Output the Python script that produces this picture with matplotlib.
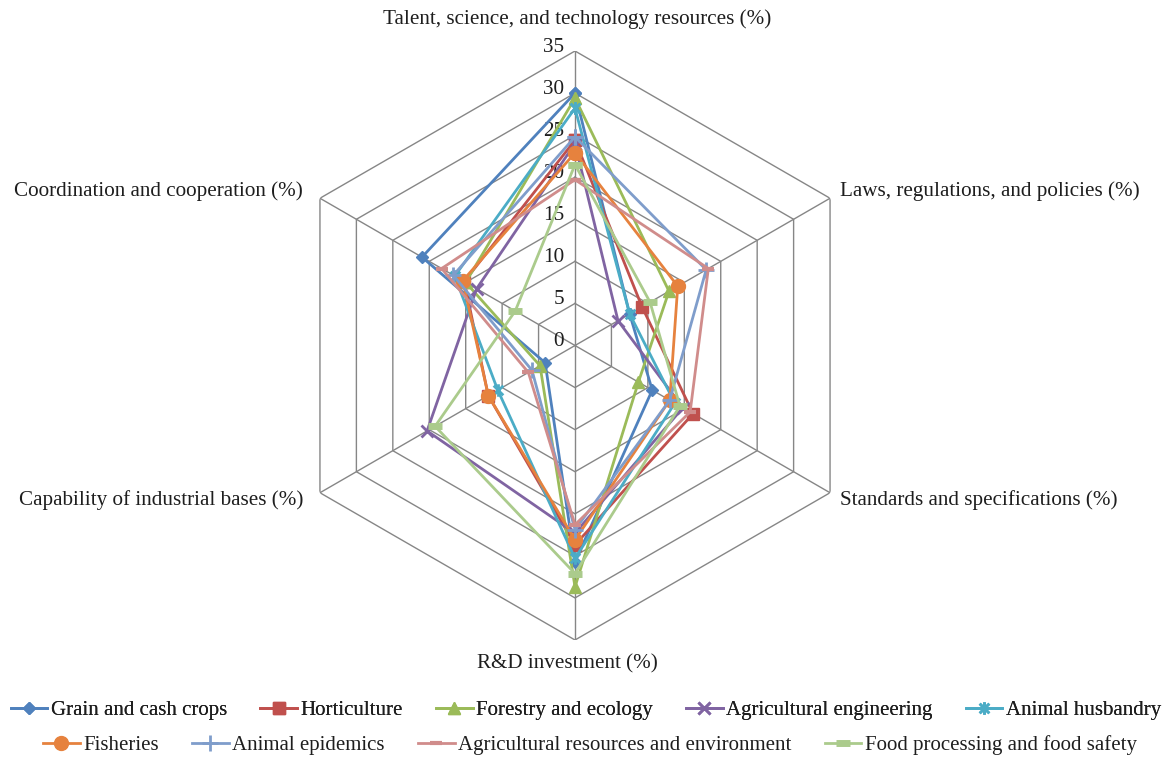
import numpy as np
import matplotlib.pyplot as plt
from matplotlib.path import Path

categories = ["Talent, science, and technology resources (%)",
              "Laws, regulations, and policies (%)",
              "Standards and specifications (%)",
              "R&D investment (%)",
              "Capability of industrial bases (%)",
              "Coordination and cooperation (%)"]

grain = [30.0, 7.5, 10.6, 25.7, 4.1, 21.0]
horticulture = [24.4, 9.2, 16.2, 23.7, 11.9, 15.2]
forestry = [29.4, 12.9, 8.7, 28.7, 4.8, 15.0]
agri_eng = [24.0, 5.9, 14.8, 22.3, 20.3, 13.5]
husbandry = [28.2, 7.5, 13.7, 25.3, 10.6, 16.5]
fisheries = [22.9, 14.1, 13.0, 23.1, 11.9, 15.4]
epidemics = [24.8, 18.0, 13.0, 21.9, 5.9, 16.7]
resources = [19.7, 18.3, 15.8, 21.3, 6.4, 18.3]
food = [21.5, 10.3, 14.4, 27.1, 19.2, 8.2]

series_names = ["Grain and cash crops", "Horticulture", "Forestry and ecology",
                "Agricultural engineering", "Animal husbandry", "Fisheries",
                "Animal epidemics", "Agricultural resources and environment",
                "Food processing and food safety"]
series_values = [grain, horticulture, forestry, agri_eng, husbandry,
                 fisheries, epidemics, resources, food]

ticks = [0, 5, 10, 15, 20, 25, 30, 35]

# Excel "star" marker: an x with a vertical stroke
star = Path([(-1, -1), (1, 1), (-1, 1), (1, -1), (0, -1.3), (0, 1.3)],
            [Path.MOVETO, Path.LINETO, Path.MOVETO, Path.LINETO,
             Path.MOVETO, Path.LINETO])

colors = ["#4F81BD", "#C0504D", "#9BBB59", "#8064A2", "#4BACC6",
          "#E6823E", "#7F9DCB", "#D08C8B", "#ABCB8C"]
markers = ["D", "s", "^", "x", star, "o", "+", "_", "_"]
msizes = [6, 9, 9, 9, 9, 10, 11, 8, 10]
mews = [1, 1, 1, 2, 2, 1, 2, 3, 5]

plt.rcParams["font.family"] = "Liberation Serif"

W, H = 1172, 759
fig = plt.figure(figsize=(W / 100, H / 100), dpi=100)

cx, cy, rad = 575, 345.5, 294.5
ax = fig.add_axes([(cx - rad) / W, 1 - (cy + rad) / H, 2 * rad / W, 2 * rad / H],
                  projection="polar")
ax.set_theta_zero_location("N")
ax.set_theta_direction(-1)
ax.set_ylim(0, 35)
ax.grid(False)
ax.spines["polar"].set_visible(False)
ax.set_xticks([])
ax.set_yticks([])
ax.patch.set_alpha(0)

n = len(categories)
theta = np.arange(n + 1) * 2 * np.pi / n

# hexagonal grid
grid_col = "#868686"
for t in ticks[1:]:
    ax.plot(theta, [t] * (n + 1), color=grid_col, lw=1, zorder=1)
for th in theta[:-1]:
    ax.plot([th, th], [0, 35], color=grid_col, lw=1, zorder=1)

txt_col = "#1e1e1e"
for t in ticks:
    ax.annotate(str(t), (0, t), xytext=(-11, 4), textcoords="offset pixels",
                ha="right", va="center", fontsize=15.2, color=txt_col)

# category labels
offsets = [(2, 32, "center"), (10, 7, "left"), (10, -7, "left"),
           (-8, -24, "center"), (-17, -7, "right"), (-17, 7, "right")]
for th, lab, (dx, dy, ha) in zip(theta[:-1], categories, offsets):
    ax.annotate(lab, (th, 35), xytext=(dx, dy), textcoords="offset pixels",
                ha=ha, va="center", fontsize=15.2, color=txt_col,
                annotation_clip=False)

handles = []
for name, vals, c, m, ms, mew in zip(series_names, series_values, colors,
                                     markers, msizes, mews):
    v = list(vals) + [vals[0]]
    h, = ax.plot(theta, v, color=c, lw=2, marker=m, markersize=ms,
                 markeredgewidth=mew, markerfacecolor=c, markeredgecolor=c,
                 label=name, zorder=3, clip_on=False)
    handles.append(h)

leg_kw = dict(loc="center", frameon=False, fontsize=15, handlelength=1.75,
              handletextpad=0.17, columnspacing=1.6, borderpad=0,
              labelcolor=txt_col)
leg1 = fig.legend(handles=handles[:5], ncol=5,
                  bbox_to_anchor=(586 / W, 1 - 710 / H), **leg_kw)
fig.add_artist(leg1)
fig.legend(handles=handles[5:], ncol=4,
           bbox_to_anchor=(590 / W, 1 - 745 / H), **leg_kw)

plt.savefig("out.png", dpi=100)
